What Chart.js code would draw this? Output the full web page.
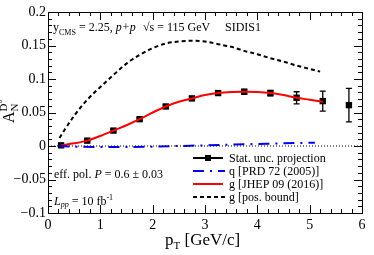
<!DOCTYPE html>
<html><head><meta charset="utf-8">
<script src="https://cdn.jsdelivr.net/npm/chart.js@4/dist/chart.umd.min.js"></script>
<style>html,body{margin:0;padding:0;background:#fff}#w{width:374px;height:255px}</style>
</head><body><div id="w"><canvas id="c"></canvas></div>
<script>
// Stat. unc. projection points
const ptX = [0.25,0.75,1.25,1.75,2.25,2.75,3.25,3.75,4.25,4.75,5.25,5.75];
const ptY = [0.001,0.008,0.023,0.040,0.059,0.071,0.079,0.081,0.079,0.072,0.067,0.061];
const ptErr = [0.0015,0.0015,0.002,0.002,0.0025,0.003,0.003,0.0035,0.004,0.009,0.0148,0.025];
// g [JHEP 09 (2016)]
const gX = [0.25,0.5,0.75,1.0,1.25,1.5,1.75,2.0,2.25,2.5,2.75,3.0,3.25,3.5,3.75,4.0,4.25,4.5,4.75,5.0,5.25];
const gY = [0.001,0.004,0.008,0.015,0.023,0.031,0.040,0.050,0.059,0.066,0.071,0.076,0.079,0.0805,0.081,0.0805,0.079,0.076,0.072,0.069,0.066];
// g [pos. bound]
const posX = [0.22,0.3,0.5,0.75,1.0,1.25,1.5,1.75,2.0,2.25,2.5,2.75,3.0,3.25,3.5,3.75,4.0,4.25,4.5,4.75,5.0,5.2];
const posY = [0.012,0.022,0.045,0.069,0.088,0.106,0.123,0.136,0.146,0.153,0.156,0.157,0.156,0.152,0.148,0.142,0.137,0.131,0.126,0.120,0.115,0.111];
// q [PRD 72 (2005)]
const qX = [0.2,0.5,1.0,1.5,2.0,2.5,3.0,3.5,4.0,4.5,5.1];
const qY = [0,-0.001,-0.0015,-0.0015,-0.001,0,0.001,0.002,0.003,0.004,0.005];
// zero reference line
const zeroX = [0,6];
const zeroY = [0,0];
// tick labels
const xTickVals = [0,1,2,3,4,5,6];
const xTickLabels = ['0','1','2','3','4','5','6'];
const yTickVals = [-0.1,-0.05,0,0.05,0.1,0.15,0.2];
const yTickLabels = ['\u22120.1','\u22120.05','0','0.05','0.1','0.15','0.2'];
const legendLabels = ['Stat. unc. projection','q [PRD 72 (2005)]','g [JHEP 09 (2016)]','g [pos. bound]'];

const pts = (xs, ys) => xs.map((x,i)=>({x, y: ys[i]}));
const SERIF = '"Liberation Serif", "DejaVu Serif", serif';

const deco = {
  id: 'deco',
  beforeDatasetsDraw(chart) {
    const ctx = chart.ctx, xs = chart.scales.x, ys = chart.scales.y;
    ctx.save();
    ctx.strokeStyle = '#000'; ctx.lineWidth = 1.3;
    ptX.forEach((x,i)=>{
      const px = xs.getPixelForValue(x);
      const y1 = ys.getPixelForValue(ptY[i]+ptErr[i]);
      const y2 = ys.getPixelForValue(ptY[i]-ptErr[i]);
      ctx.beginPath();
      ctx.moveTo(px,y1); ctx.lineTo(px,y2);
      ctx.moveTo(px-3,y1); ctx.lineTo(px+3,y1);
      ctx.moveTo(px-3,y2); ctx.lineTo(px+3,y2);
      ctx.stroke();
    });
    ctx.restore();
  },
  afterDraw(chart) {
    const ctx = chart.ctx, xs = chart.scales.x, ys = chart.scales.y;
    const a = chart.chartArea;
    ctx.save();
    // frame
    ctx.strokeStyle = '#000'; ctx.lineWidth = 1;
    ctx.strokeRect(Math.round(a.left)+0.5, Math.round(a.top)+0.5, Math.round(a.right-a.left), Math.round(a.bottom-a.top));
    // ticks
    ctx.beginPath();
    for (let i=0;i<=30;i++){
      const v = i*0.2; const px = Math.round(xs.getPixelForValue(v))+0.5;
      const L = (i%5===0)?8:4;
      ctx.moveTo(px,a.bottom); ctx.lineTo(px,a.bottom-L);
      ctx.moveTo(px,a.top); ctx.lineTo(px,a.top+L);
    }
    for (let i=0;i<=30;i++){
      const v = -0.1 + i*0.01; const py = Math.round(ys.getPixelForValue(v))+0.5;
      const L = (i%5===0)?8:4;
      ctx.moveTo(a.left,py); ctx.lineTo(a.left+L,py);
      ctx.moveTo(a.right,py); ctx.lineTo(a.right-L,py);
    }
    ctx.stroke();

    ctx.fillStyle = '#000';
    ctx.textBaseline = 'alphabetic';
    ctx.textAlign = 'left';
    // helper to draw sequence of runs
    const runs = (x, y, parts) => {
      let cx = x;
      parts.forEach(p => {
        ctx.font = (p.it?'italic ':'') + p.s + 'px ' + SERIF;
        ctx.fillText(p.t, cx, y + (p.dy||0));
        cx += ctx.measureText(p.t).width;
      });
      return cx;
    };
    // top annotation
    runs(53, 31, [
      {t:'y', s:12},{t:'CMS', s:8, dy:4},{t:' = 2.25, ', s:12},{t:'p+p', s:12, it:true},{t:'  ', s:12}
    ]);
    ctx.font = '12px ' + SERIF;
    // sqrt s
    let sx = 143;
    ctx.fillText('\u221As = 115 GeV', sx, 31);
    ctx.fillText('SIDIS1', 225, 31);
    // lower left annotations
    runs(54, 178, [{t:'eff. pol. ', s:12},{t:'P', s:12, it:true},{t:' = 0.6 \u00B1 0.03', s:12}]);
    runs(54, 205, [{t:'L', s:12, it:true},{t:'pp', s:8, it:true, dy:2},{t:' = 10 fb', s:12},{t:'-1', s:8, dy:-5}]);

    // legend
    const ly = [158, 171, 184, 197];
    const lx1 = 193, lx2 = 223;
    ctx.lineWidth = 2;
    // stat
    ctx.strokeStyle = '#000'; ctx.setLineDash([]);
    ctx.beginPath(); ctx.moveTo(lx1,ly[0]); ctx.lineTo(lx2,ly[0]); ctx.stroke();
    ctx.fillRect((lx1+lx2)/2-3, ly[0]-3, 6, 6);
    // q
    ctx.strokeStyle = '#0000ff'; ctx.setLineDash([11,6,2,6]);
    ctx.beginPath(); ctx.moveTo(lx1,ly[1]); ctx.lineTo(lx2+2,ly[1]); ctx.stroke();
    // g red
    ctx.strokeStyle = '#ff0000'; ctx.setLineDash([]);
    ctx.beginPath(); ctx.moveTo(lx1,ly[2]); ctx.lineTo(lx2,ly[2]); ctx.stroke();
    // pos bound
    ctx.strokeStyle = '#000'; ctx.setLineDash([4,3]);
    ctx.beginPath(); ctx.moveTo(lx1,ly[3]); ctx.lineTo(lx2+2,ly[3]); ctx.stroke();
    ctx.setLineDash([]);
    ctx.font = '12px ' + SERIF;
    ctx.textBaseline = 'middle';
    legendLabels.forEach((t,i)=> ctx.fillText(t, 229, ly[i]+0.5));

    // x title
    ctx.textBaseline = 'alphabetic';
    runs(165, 245, [{t:'p', s:17},{t:'T', s:11, dy:4},{t:' [GeV/c]', s:17}]);

    // y title (rotated)
    ctx.save();
    ctx.translate(14, 123);
    ctx.rotate(-Math.PI/2);
    ctx.font = '16px ' + SERIF;
    ctx.fillText('A', 0, 0);
    const aw = ctx.measureText('A').width;
    ctx.font = '11px ' + SERIF;
    ctx.fillText('N', aw, 4);
    ctx.fillText('D', aw, -7);
    const dw = ctx.measureText('D').width;
    ctx.font = '8px ' + SERIF;
    ctx.fillText('0', aw+dw, -12);
    ctx.restore();

    ctx.restore();
  }
};

new Chart(document.getElementById('c'), {
  type: 'scatter',
  data: {
    datasets: [
      {data: pts(zeroX, zeroY), showLine:true, borderColor:'#000', borderWidth:1, borderDash:[1,2], pointRadius:0},
      {data: pts(qX, qY), showLine:true, borderColor:'#0000ff', borderWidth:2, borderDash:[11,6,2,6], pointRadius:0, cubicInterpolationMode:'monotone'},
      {data: pts(posX, posY), showLine:true, borderColor:'#000', borderWidth:2, borderDash:[4,3], pointRadius:0, cubicInterpolationMode:'monotone'},
      {data: pts(gX, gY), showLine:true, borderColor:'#ff0000', borderWidth:2, pointRadius:0, cubicInterpolationMode:'monotone'},
      {data: pts(ptX, ptY), showLine:false, pointStyle:'rect', pointRadius:4.5, backgroundColor:'#000', borderColor:'#000', borderWidth:0}
    ]
  },
  options: {
    responsive: true, maintainAspectRatio: false, animation: false,
    layout: {padding: {top: 12, right: 12, bottom: 0, left: 0}},
    plugins: {legend: {display:false}, tooltip: {enabled:false}},
    scales: {
      x: {
        type:'linear', min:0, max:6,
        afterBuildTicks: s => { s.ticks = xTickVals.map(v=>({value:v})); },
        afterFit: s => { s.height = 42; },
        grid: {display:false, drawTicks:false},
        border: {display:false},
        ticks: {padding:4, color:'#000', font:{family:SERIF, size:14}, maxRotation:0,
          callback: v => { const i = xTickVals.indexOf(Math.round(v)); return i>=0 ? xTickLabels[i] : ''; }}
      },
      y: {
        type:'linear', min:-0.1, max:0.2,
        afterBuildTicks: s => { s.ticks = yTickVals.map(v=>({value:v})); },
        afterFit: s => { s.width = 48; },
        grid: {display:false, drawTicks:false},
        border: {display:false},
        ticks: {padding:2, color:'#000', font:{family:SERIF, size:14},
          callback: v => { const i = yTickVals.findIndex(t=>Math.abs(t-v)<1e-9); return i>=0 ? yTickLabels[i] : ''; }}
      }
    }
  },
  plugins: [deco]
});
</script>
</body></html>
